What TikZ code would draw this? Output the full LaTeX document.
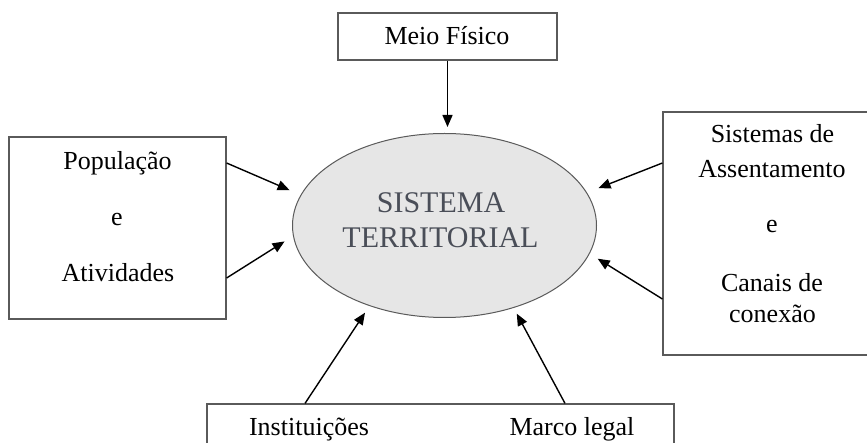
\documentclass[tikz,border=0pt]{standalone}
\usepackage{fontspec}
\setmainfont{Liberation Serif}
\usetikzlibrary{arrows.meta,shapes.geometric}
\definecolor{boxgray}{HTML}{5A5A5A}
\definecolor{ellfill}{HTML}{E6E6E6}
\definecolor{elltext}{HTML}{4A4E58}
\begin{document}
\begin{tikzpicture}[x=1pt,y=-1pt,
  box/.style={draw=boxgray, line width=1.2pt, inner sep=0pt, fill=white},
  txt/.style={font=\fontsize{26}{30}\selectfont, inner sep=0pt, anchor=base},
  etxt/.style={font=\fontsize{30}{34}\selectfont, text=elltext, inner sep=0pt, anchor=base},
  arr/.style={-{Triangle[length=12pt,width=10pt]}, line width=1.4pt, black}]
\clip (0,0) rectangle (867,443);
\fill[white] (0,0) rectangle (867,443);
% boxes
\node[box, minimum width=219pt, minimum height=47pt] (meio) at (447.5,36.5) {};
\node[box, minimum width=217pt, minimum height=182pt] (pop) at (117.5,228) {};
\node[box, minimum width=212pt, minimum height=243pt] (sis) at (769,233.5) {};
\node[box, minimum width=467pt, minimum height=66pt] (bot) at (440.5,437) {};
% ellipse
\node[ellipse, draw=boxgray, line width=1pt, fill=ellfill, inner sep=0pt,
      minimum width=304pt, minimum height=184pt] (terr) at (444.5,225.5) {};
% texts
\node[txt] (meiot) at (447,45) {Meio Físico};
\node[txt] (popt1) at (117.5,170) {População};
\node[txt] (popt2) at (117,226) {e};
\node[txt] (popt3) at (118,282) {Atividades};
\node[txt] (sist1) at (772.5,143) {Sistemas de};
\node[txt] (sist2) at (772,178) {Assentamento};
\node[txt] (sist3) at (772,233) {e};
\node[txt] (sist4) at (772,292) {Canais de};
\node[txt] (sist5) at (772.5,323) {conexão};
\node[txt] (inst) at (309,435) {Instituições};
\node[txt] (marco) at (572,435) {Marco legal};
\node[etxt] (et1) at (441,213) {SISTEMA};
\node[etxt] (et2) at (440.5,248) {TERRITORIAL};
% arrows
\draw[arr, shorten >=6pt] (meio.south) -- (meio.south |- terr.north);
\draw[arr, shorten >=12pt] ([yshift=65pt]pop.east) -- (terr.168);
\draw[arr, shorten >=10pt] ([yshift=-50pt]pop.east) -- (terr.184.2);
\draw[arr, shorten >=12.4pt] ([yshift=70.5pt]sis.west) -- (terr.13.1);
\draw[arr, shorten >=9.4pt] ([yshift=-65.5pt]sis.west) -- (terr.349.7);
\draw[arr, shorten >=8pt] ([xshift=-135.5pt]bot.north) -- (terr.227.9);
\draw[arr, shorten >=6.5pt] ([xshift=124.5pt]bot.north) -- (terr.310.3);
\end{tikzpicture}
\end{document}
